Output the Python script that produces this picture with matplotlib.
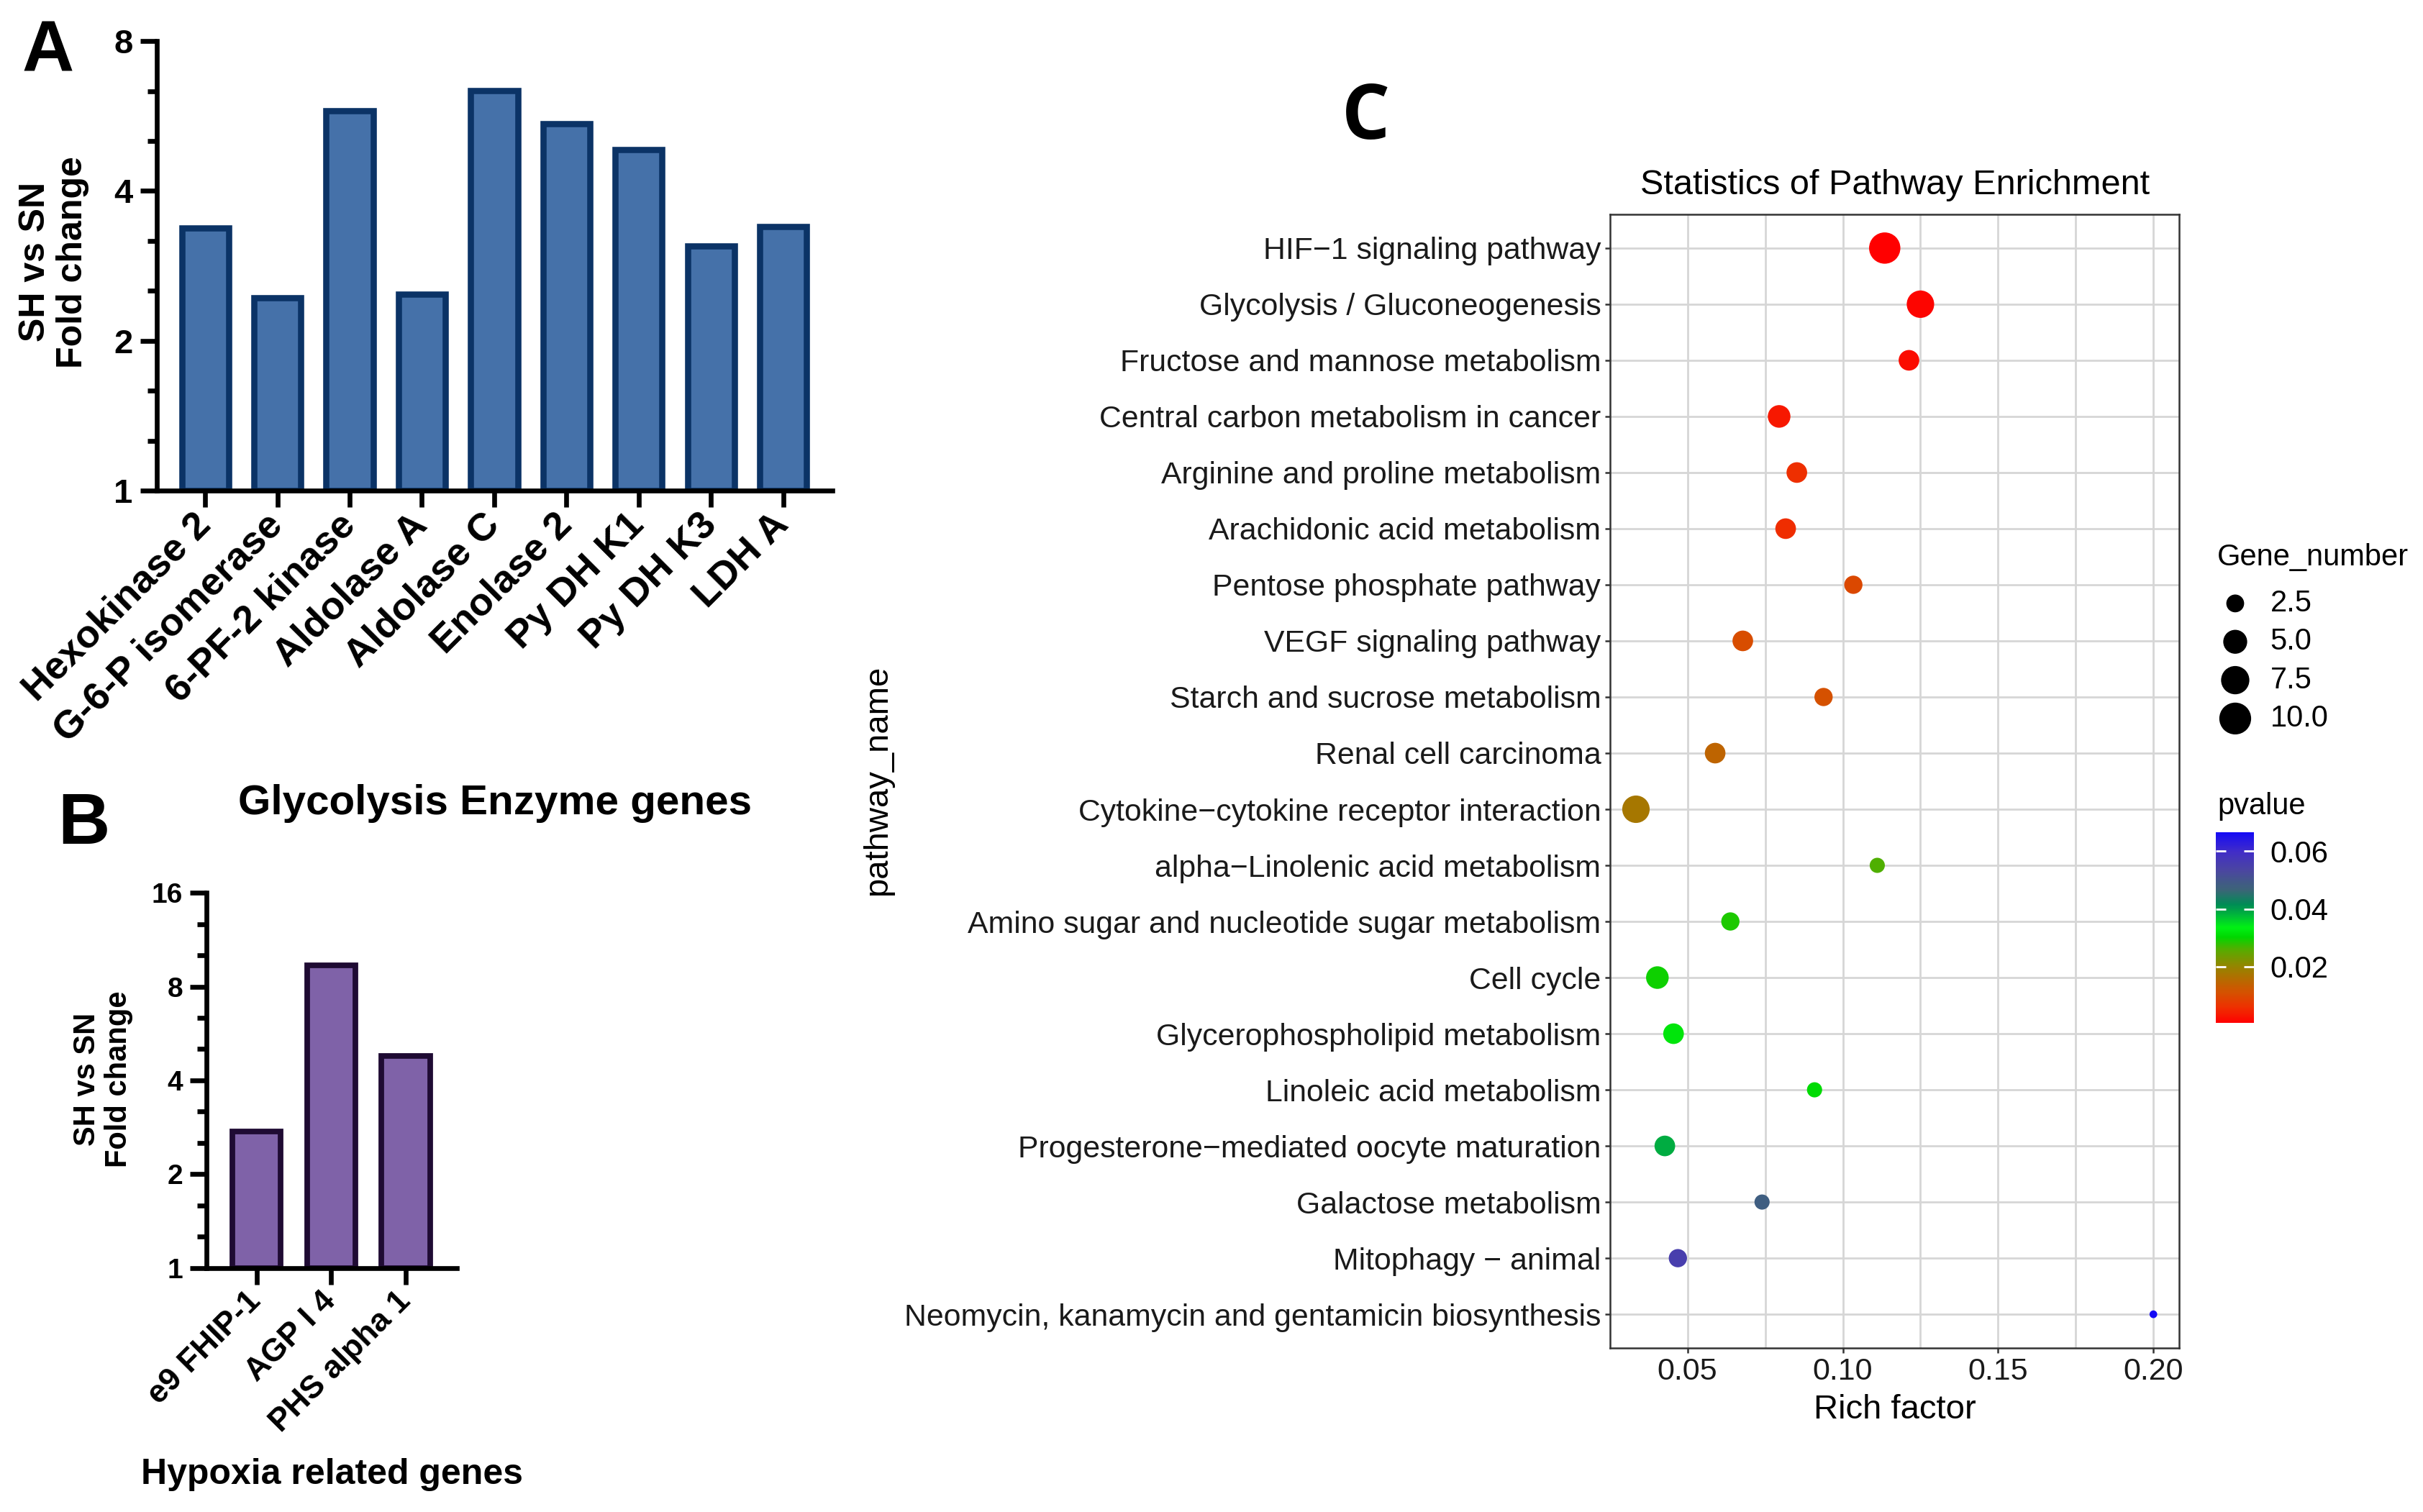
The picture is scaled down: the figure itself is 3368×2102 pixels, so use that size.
import numpy as np
import matplotlib
matplotlib.use("Agg")
import matplotlib.pyplot as plt
from matplotlib.ticker import FixedLocator, NullFormatter, FormatStrFormatter
from matplotlib.colors import LinearSegmentedColormap, Normalize
from matplotlib.cm import ScalarMappable

plt.rcParams["font.family"] = ["Liberation Sans", "DejaVu Sans"]

# panel A: glycolysis enzyme genes (fold change, log2 axis)
glyco_genes = ["Hexokinase 2", "G-6-P isomerase", "6-PF-2 kinase", "Aldolase A",
               "Aldolase C", "Enolase 2", "Py DH K1", "Py DH K3", "LDH A"]
glyco_fc = [3.37, 2.44, 5.80, 2.48, 6.37, 5.46, 4.84, 3.10, 3.39]

# panel B: hypoxia related genes
hypoxia_genes = ["e9 FHIP-1", "AGP I 4", "PHS alpha 1"]
hypoxia_fc = [2.74, 9.34, 4.80]

# panel C: KEGG enrichment (top to bottom)
pathways = [
    "HIF\u22121 signaling pathway",
    "Glycolysis / Gluconeogenesis",
    "Fructose and mannose metabolism",
    "Central carbon metabolism in cancer",
    "Arginine and proline metabolism",
    "Arachidonic acid metabolism",
    "Pentose phosphate pathway",
    "VEGF signaling pathway",
    "Starch and sucrose metabolism",
    "Renal cell carcinoma",
    "Cytokine\u2212cytokine receptor interaction",
    "alpha\u2212Linolenic acid metabolism",
    "Amino sugar and nucleotide sugar metabolism",
    "Cell cycle",
    "Glycerophospholipid metabolism",
    "Linoleic acid metabolism",
    "Progesterone\u2212mediated oocyte maturation",
    "Galactose metabolism",
    "Mitophagy \u2212 animal",
    "Neomycin, kanamycin and gentamicin biosynthesis",
]
rich_factor = [0.1135, 0.125, 0.1213, 0.0795, 0.0852, 0.0816, 0.1034, 0.0678, 0.0938, 0.0589,
               0.0334, 0.1111, 0.0638, 0.0403, 0.0455, 0.0909, 0.0427, 0.0740, 0.0469, 0.2000]
gene_number = [11, 8, 4, 5, 4, 4, 3, 4, 3, 4, 8, 2, 3, 5, 4, 2, 4, 2, 3, 1]
pvalue = [0.0006, 0.0013, 0.0019, 0.0032, 0.0059, 0.0056, 0.0098, 0.0105, 0.0111, 0.0144,
          0.0177, 0.0263, 0.0289, 0.0296, 0.0322, 0.0309, 0.0388, 0.0480, 0.0553, 0.0665]
size_levels = [2.5, 5.0, 7.5, 10.0]
p_ticks = [0.02, 0.04, 0.06]

DPI = 200

# colour ramp red -> green -> blue, as it appears in the original colour bar
ramp = [
    (0.00, (255, 0, 0)), (0.08, (238, 48, 0)), (0.16, (212, 82, 0)), (0.23, (180, 108, 0)),
    (0.30, (145, 135, 0)), (0.38, (90, 170, 0)), (0.45, (0, 215, 0)), (0.50, (0, 240, 20)),
    (0.57, (0, 180, 60)), (0.62, (0, 140, 85)), (0.70, (60, 100, 120)), (0.80, (75, 70, 160)),
    (0.90, (65, 45, 200)), (1.00, (20, 10, 245)),
]
cmap = LinearSegmentedColormap.from_list(
    "pval", [(pos, tuple(c / 255 for c in rgb)) for pos, rgb in ramp])


def log2_bar_panel(ax, labels, values, top, fill, edge, tick_fs, xtick_fs, lw):
    x = np.arange(len(values))
    ax.bar(x, np.array(values) - 1, bottom=1, width=0.65, color=fill,
           edgecolor=edge, linewidth=lw, zorder=2)
    ax.set_yscale("log", base=2)
    ax.set_ylim(1, top)
    majors = [2 ** k for k in range(int(np.log2(top)) + 1)]
    ax.set_yticks(majors)
    ax.set_yticklabels([str(v) for v in majors], fontsize=tick_fs, fontweight="bold")
    minors = [2 ** (k + j / 3) for k in range(int(np.log2(top))) for j in (1, 2)]
    ax.yaxis.set_minor_locator(FixedLocator(minors))
    ax.yaxis.set_minor_formatter(NullFormatter())
    ax.set_xlim(-0.67, len(values) - 1 + 0.68)
    ax.set_xticks(x)
    ax.set_xticklabels(labels, rotation=45, ha="right", va="center",
                       rotation_mode="anchor", fontsize=xtick_fs, fontweight="bold")
    for s in ("top", "right"):
        ax.spines[s].set_visible(False)
    for s in ("left", "bottom"):
        ax.spines[s].set_linewidth(2.4)
        ax.spines[s].set_zorder(3)
    ax.tick_params(axis="both", which="major", length=8.4, width=2.4, pad=3.5)
    ax.tick_params(axis="y", which="minor", length=4.6, width=2.4)
    ax.tick_params(axis="x", which="major", pad=6)


fig = plt.figure(figsize=(3368 / DPI, 2102 / DPI), dpi=DPI)

# ---- panel A
ax_a = fig.add_axes([0.0647, 0.6755, 0.2788, 0.2973])
log2_bar_panel(ax_a, glyco_genes, glyco_fc, 8, "#4571A9", "#0B3366", 17, 19.5, 3.1)
fig.text(0.0223, 0.8268, "SH vs SN\nFold change", rotation=90, ha="center", va="center",
         fontsize=18, fontweight="bold", linespacing=1.15)
fig.text(0.2043, 0.4686, "Glycolysis Enzyme genes", ha="center", va="center",
         fontsize=21, fontweight="bold")
fig.text(0.0199, 0.965, "A", ha="center", va="center", fontsize=36, fontweight="bold")

# ---- panel B
ax_b = fig.add_axes([0.0852, 0.1613, 0.1033, 0.2483])
log2_bar_panel(ax_b, hypoxia_genes, hypoxia_fc, 16, "#7F62A8", "#1F0B33", 14, 16, 2.8)
fig.text(0.0425, 0.2864, "SH vs SN\nFold change", rotation=90, ha="center", va="center",
         fontsize=15, fontweight="bold", linespacing=1.15)
fig.text(0.1369, 0.0247, "Hypoxia related genes", ha="center", va="center",
         fontsize=18, fontweight="bold")
fig.text(0.0345, 0.4543, "B", ha="center", va="center", fontsize=36, fontweight="bold")

# ---- panel C
norm = Normalize(vmin=min(pvalue), vmax=max(pvalue))
gmin, gmax = min(gene_number), max(gene_number)


def dot_size(g):
    d_px = 10.7 + 32.8 * np.sqrt((np.asarray(g, float) - gmin) / (gmax - gmin))
    return (d_px * 72 / DPI) ** 2


n = len(pathways)
ypos = np.arange(n)[::-1]
ax_c = fig.add_axes([0.6645, 0.1085, 0.2349, 0.7497])
ax_c.scatter(rich_factor, ypos, s=dot_size(gene_number), c=pvalue, cmap=cmap, norm=norm,
             linewidths=0, zorder=3)
span = max(rich_factor) - min(rich_factor)
ax_c.set_xlim(min(rich_factor) - 0.05 * span, max(rich_factor) + 0.05 * span)
ax_c.set_ylim(-0.6, n - 0.4)
ax_c.set_yticks(ypos)
ax_c.set_yticklabels(pathways, fontsize=15.4, color="#1a1a1a")
ax_c.set_xticks([0.05, 0.10, 0.15, 0.20])
ax_c.xaxis.set_major_formatter(FormatStrFormatter("%.2f"))
ax_c.xaxis.set_minor_locator(FixedLocator([0.075, 0.125, 0.175]))
for lbl in ax_c.get_xticklabels():
    lbl.set_fontsize(15.5)
    lbl.set_color("#1a1a1a")
ax_c.grid(which="both", axis="x", color="#D6D6D6", linewidth=1.0, zorder=0)
ax_c.grid(which="major", axis="y", color="#D6D6D6", linewidth=1.0, zorder=0)
ax_c.set_axisbelow(True)
ax_c.tick_params(axis="both", which="major", length=2.6, width=0.9, color="#333333", pad=2)
ax_c.tick_params(axis="x", which="minor", length=0)
for s in ax_c.spines.values():
    s.set_color("#333333")
    s.set_linewidth(0.9)
ax_c.set_title("Statistics of Pathway Enrichment", fontsize=17.5, pad=10)
ax_c.set_xlabel("Rich factor", fontsize=17, labelpad=4)
fig.text(0.3622, 0.4838, "pathway_name", rotation=90, ha="center", va="center", fontsize=17)
fig.text(0.5638, 0.9215, "C", ha="center", va="center", fontsize=38, fontweight="bold",
         family=["Open Sans", "DejaVu Sans"])

# size legend
fig.text(0.9151, 0.6313, "Gene_number", ha="left", va="center", fontsize=15)
ax_leg = fig.add_axes([0.9145, 0.5121, 0.08, 0.1015])
ax_leg.set_xlim(0, 1)
ax_leg.set_ylim(len(size_levels) - 0.5, -0.5)
ax_leg.axis("off")
ax_leg.scatter(np.full(len(size_levels), 0.1), np.arange(len(size_levels)),
               s=dot_size(size_levels) * 1.12, color="black", linewidths=0)
for i, v in enumerate(size_levels):
    ax_leg.text(0.28, i, f"{v:.1f}", ha="left", va="center", fontsize=15)

# colour bar
fig.text(0.9151, 0.4667, "pvalue", ha="left", va="center", fontsize=15)
cax = fig.add_axes([0.9145, 0.3235, 0.0157, 0.1261])
cb = fig.colorbar(ScalarMappable(norm=norm, cmap=cmap), cax=cax, ticks=p_ticks)
cb.outline.set_visible(False)
cax.set_yticklabels([f"{t:.2f}" for t in p_ticks], fontsize=15)
cax.tick_params(axis="y", direction="in", color="white", length=5, width=1,
                left=True, right=True, pad=8)

fig.savefig("out.png", dpi=DPI)
